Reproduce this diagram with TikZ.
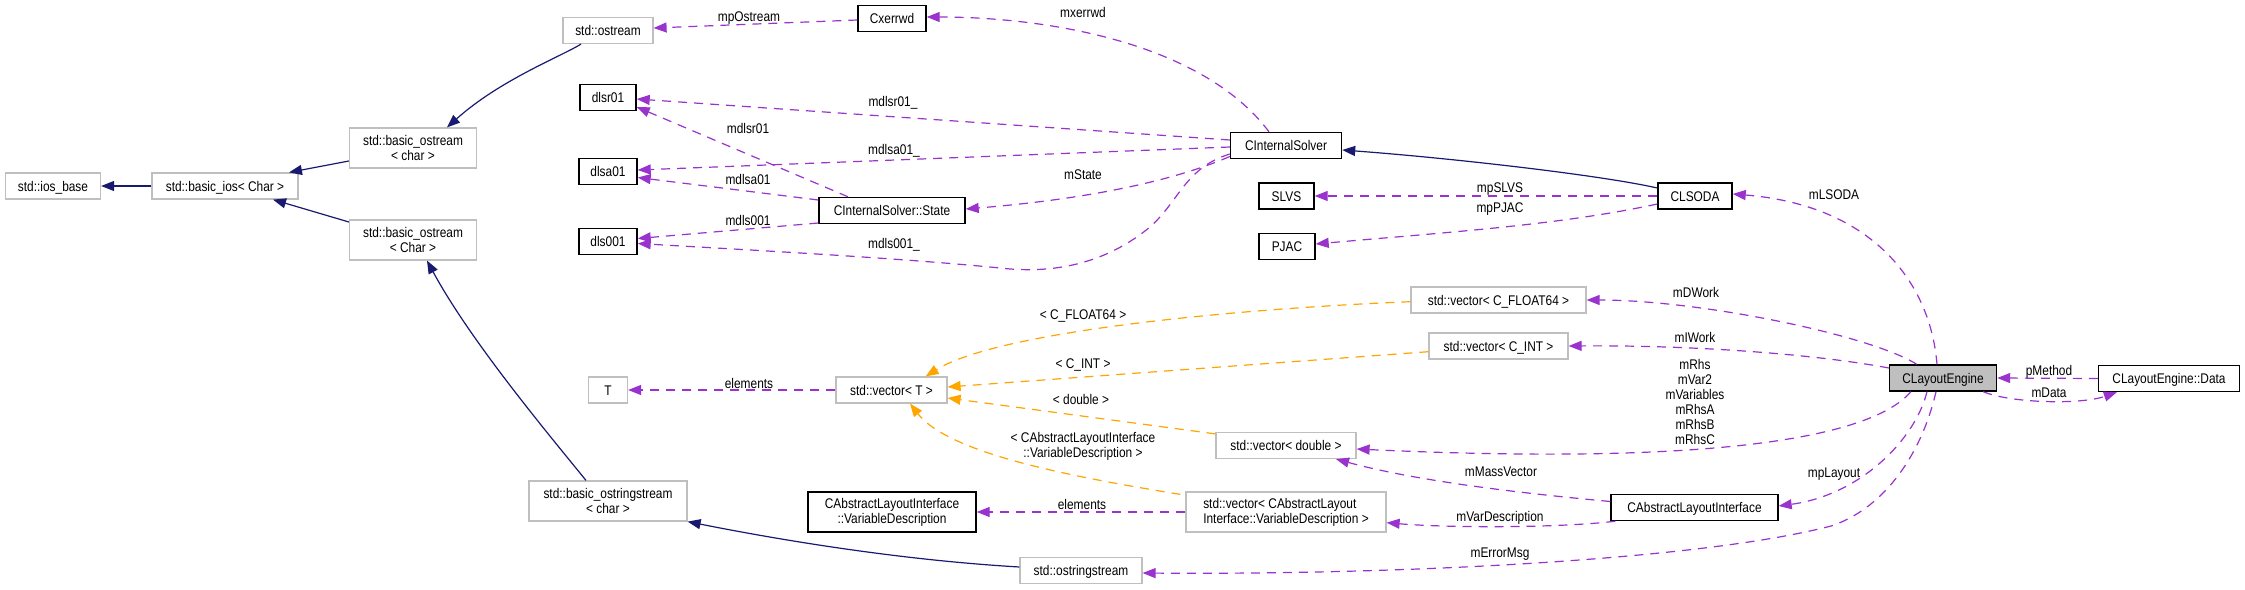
\documentclass[tikz,border=0pt]{standalone}
\usepackage{fontspec}
\setmainfont[FakeStretch=0.85]{Liberation Sans}
\usetikzlibrary{arrows.meta,calc}
\definecolor{grey75}{HTML}{BFBFBF}
\definecolor{navyc}{HTML}{191970}
\definecolor{orchidc}{HTML}{9A32CD}
\definecolor{orngc}{HTML}{FFA500}
\tikzset{
  every node/.style={inner sep=0pt, font=\fontsize{14}{15}\selectfont},
  one/.style={text height=10.2pt, text depth=0pt},
  ext/.style={draw=grey75, line width=1.2pt, fill=white},
  doc/.style={draw=black, line width=1.4pt, fill=white},
  mainc/.style={draw=black, line width=1.4pt, fill=grey75},
  lbl/.style={one},
  tip/.style={-{Triangle[length=13pt,width=10pt]}},
  inh/.style={draw=navyc, line width=1.2pt, tip},
  use/.style={draw=orchidc, line width=1.2pt, dash pattern=on 9pt off 7pt, tip},
  tmpl/.style={draw=orngc, line width=1.2pt, dash pattern=on 9pt off 7pt, tip}
}
\begin{document}
\begin{tikzpicture}[x=1pt,y=-1pt]
\useasboundingbox[fill=white] (0,0) rectangle (2245,589);
% nodes
\node[ext,one,minimum width=95pt,minimum height=26pt] (ios) at (53,186) {std::ios\_base};
\node[ext,one,minimum width=146pt,minimum height=26pt] (bios) at (225,186) {std::basic\_ios< Char >};
\node[ext,align=center,minimum width=127pt,minimum height=40pt] (bosc) at (413,148) {std::basic\_ostream\\< char >};
\node[ext,align=center,minimum width=127pt,minimum height=40pt] (bosC) at (413,240) {std::basic\_ostream\\< Char >};
\node[ext,one,minimum width=90pt,minimum height=26pt] (ostream) at (608,30.5) {std::ostream};
\node[doc,one,minimum width=56pt,minimum height=26pt] (dlsr) at (608,97.5) {dlsr01};
\node[doc,one,minimum width=58pt,minimum height=26pt] (dlsa) at (608,171.5) {dlsa01};
\node[doc,one,minimum width=58pt,minimum height=26pt] (dls) at (608,241.5) {dls001};
\node[ext,one,minimum width=39pt,minimum height=26pt] (T) at (608,390) {T};
\node[ext,align=center,minimum width=158pt,minimum height=40pt] (bossc) at (608,501) {std::basic\_ostringstream\\< char >};
\node[doc,one,minimum width=68pt,minimum height=26pt] (cxer) at (892,18.5) {Cxerrwd};
\node[doc,one,minimum width=146pt,minimum height=26pt] (state) at (892,210.5) {CInternalSolver::State};
\node[ext,one,minimum width=111pt,minimum height=26pt] (vecT) at (891.5,390) {std::vector< T >};
\node[doc,align=center,minimum width=168pt,minimum height=40pt] (vdesc) at (892,512) {CAbstractLayoutInterface\\::VariableDescription};
\node[ext,one,minimum width=122pt,minimum height=26pt] (oss) at (1081,570.5) {std::ostringstream};
\node[doc,one,minimum width=111pt,minimum height=26pt] (cis) at (1286,145.5) {CInternalSolver};
\node[doc,one,minimum width=55pt,minimum height=26pt] (slvs) at (1286.5,196) {SLVS};
\node[doc,one,minimum width=56pt,minimum height=26pt] (pjac) at (1287,246.5) {PJAC};
\node[ext,one,minimum width=140pt,minimum height=26pt] (vdbl) at (1286,445.5) {std::vector< double >};
\node[ext,align=left,minimum width=200pt,minimum height=40pt] (vvd) at (1286,512) {std::vector< CAbstractLayout\\Interface::VariableDescription >};
\node[ext,one,minimum width=175pt,minimum height=26pt] (vf64) at (1498.5,300) {std::vector< C\_FLOAT64 >};
\node[ext,one,minimum width=139pt,minimum height=26pt] (vint) at (1498.5,346) {std::vector< C\_INT >};
\node[doc,one,minimum width=74pt,minimum height=26pt] (clsoda) at (1695,196) {CLSODA};
\node[doc,one,minimum width=167pt,minimum height=26pt] (cali) at (1694.5,507.5) {CAbstractLayoutInterface};
\node[mainc,one,minimum width=107pt,minimum height=26pt] (cle) at (1943,378) {CLayoutEngine};
\node[doc,one,minimum width=141pt,minimum height=26pt] (cled) at (2169,378.5) {CLayoutEngine::Data};
% inheritance
\draw[inh] ($(ostream.south)+(-27,0)$) .. controls (560,57) and (500,80) .. ($(bosc.north)+(34,0)$);
\draw[inh] ($(bosc.west)+(0,13)$) -- ($(bios.north)+(64,0)$);
\draw[inh] (bios.west) -- (ios.east);
\draw[inh] ($(bosC.west)+(0,-18)$) -- ($(bios.south)+(48,0)$);
\draw[inh] ($(bossc.north)+(-22,0)$) .. controls (545,430) and (470,340) .. ($(bosC.south)+(14,0)$);
\draw[inh] ($(oss.west)+(0,-3.5)$) .. controls (900,560) and (780,540) .. (bossc.south east);
\draw[inh] ($(clsoda.west)+(0,-8)$) .. controls (1600,175) and (1450,158) .. ($(cis.east)+(0,4.5)$);
% usage
\draw[use] ($(cxer.west)+(0,1.5)$) -- ($(ostream.east)+(0,-2.5)$);
\node[lbl] (l1) at (749,16) {mpOstream};
\draw[use] ($(cis.north)+(-17,0)$) .. controls (1200,40) and (1040,17) .. ($(cxer.east)+(0,-1.5)$);
\node[lbl] (l2) at (1083,12) {mxerrwd};
\draw[use] ($(cis.west)+(0,-5.5)$) -- ($(dlsr.east)+(0,1.5)$);
\node[lbl] (l3) at (893,101) {mdlsr01\_};
\draw[use] ($(state.north)+(-44,0)$) -- ($(dlsr.east)+(0,9.5)$);
\node[lbl] (l4) at (748,128) {mdlsr01};
\draw[use] ($(cis.west)+(0,1.5)$) -- ($(dlsa.east)+(0,-1.5)$);
\node[lbl] (l5) at (894,149) {mdlsa01\_};
\draw[use] ($(state.west)+(0,-10.5)$) -- ($(dlsa.east)+(0,6)$);
\node[lbl] (l6) at (748,179) {mdlsa01};
\draw[use] ($(state.west)+(0,12.5)$) -- ($(dls.east)+(0,-3)$);
\node[lbl] (l7) at (748,220) {mdls001};
\draw[use] ($(cis.west)+(0,8.5)$) .. controls (1185,168) and (1180,200) .. (1150,227)
  .. controls (1110,260) and (1060,275) .. (1000,268)
  .. controls (900,258) and (750,250) .. ($(dls.east)+(0,2)$);
\node[lbl] (l8) at (894,243) {mdls001\_};
\draw[use] ($(cis.west)+(0,11)$) .. controls (1180,178) and (1100,198) .. ($(state.east)+(0,-1.5)$);
\node[lbl] (l9) at (1083,174) {mState};
\draw[use] (clsoda.west) -- (slvs.east);
\node[lbl] (l10) at (1500,187) {mpSLVS};
\draw[use] ($(clsoda.west)+(0,8)$) .. controls (1560,225) and (1450,232) .. ($(pjac.east)+(0,-2.5)$);
\node[lbl] (l11) at (1500,207) {mpPJAC};
\draw[use] ($(cle.north)+(-6,0)$) .. controls (1930,280) and (1870,205) .. ($(clsoda.east)+(0,-2)$);
\node[lbl] (l12) at (1834,194) {mLSODA};
\draw[use] ($(cle.north west)+(28,0)$) .. controls (1870,335) and (1700,300) .. (vf64.east);
\node[lbl] (l13) at (1696,292) {mDWork};
\draw[use] ($(cle.west)+(0,-10)$) .. controls (1820,355) and (1700,345) .. (vint.east);
\node[lbl] (l14) at (1695,337) {mIWork};
\draw[use] ($(cle.south west)+(22,0)$) .. controls (1870,440) and (1700,465) .. ($(vdbl.east)+(0,3.5)$);
\node[align=center] (l15) at (1695,402) {mRhs\\mVar2\\mVariables\\mRhsA\\mRhsB\\mRhsC};
\draw[use] ($(cali.west)+(0,-6)$) .. controls (1530,494) and (1420,482) .. ($(vdbl.south)+(50,0)$);
\node[lbl] (l16) at (1501,471) {mMassVector};
\draw[use] ($(cali.south west)+(5,0)$) .. controls (1560,528) and (1450,528) .. ($(vvd.east)+(0,10.7)$);
\node[lbl] (l17) at (1500,516) {mVarDescription};
\draw[use] ($(cle.south)+(-16,0)$) .. controls (1915,440) and (1860,495) .. ($(cali.east)+(0,-1.5)$);
\node[lbl] (l18) at (1834,472) {mpLayout};
\draw[use] ($(cle.south)+(-7,0)$) .. controls (1920,460) and (1880,510) .. (1831,526)
  .. controls (1700,560) and (1400,575) .. ($(oss.east)+(0,2.5)$);
\node[lbl] (l19) at (1500,552) {mErrorMsg};
\draw[use] (cled.west) -- (cle.east);
\node[lbl] (l20) at (2049,370) {pMethod};
\draw[use] ($(cle.south east)+(-14,0)$) .. controls (2010,403) and (2080,405) .. ($(cled.south west)+(19,0)$);
\node[lbl] (l21) at (2049,392) {mData};
\draw[use] (vecT.west) -- (T.east);
\node[lbl] (l22) at (749,383) {elements};
\draw[use] (vvd.west) -- (vdesc.east);
\node[lbl] (l23) at (1082,504) {elements};
% template instances
\draw[tmpl] ($(vf64.west)+(0,1.7)$) .. controls (1250,308) and (1000,330) .. ($(vecT.north east)+(-22,0)$);
\node[lbl] (l24) at (1083,314) {< C\_FLOAT64 >};
\draw[tmpl] ($(vint.west)+(0,5.7)$) -- ($(vecT.east)+(0,-3)$);
\node[lbl] (l25) at (1083,363) {< C\_INT >};
\draw[tmpl] ($(vdbl.north west)+(0,2)$) -- ($(vecT.east)+(0,8)$);
\node[lbl] (l26) at (1081,399) {< double >};
\draw[tmpl] ($(vvd.north west)+(-5,3)$) .. controls (1080,478) and (950,455) .. ($(vecT.south)+(18.5,0)$);
\node[align=center] (l27) at (1083,446) {< CAbstractLayoutInterface\\::VariableDescription >};
\end{tikzpicture}
\end{document}
